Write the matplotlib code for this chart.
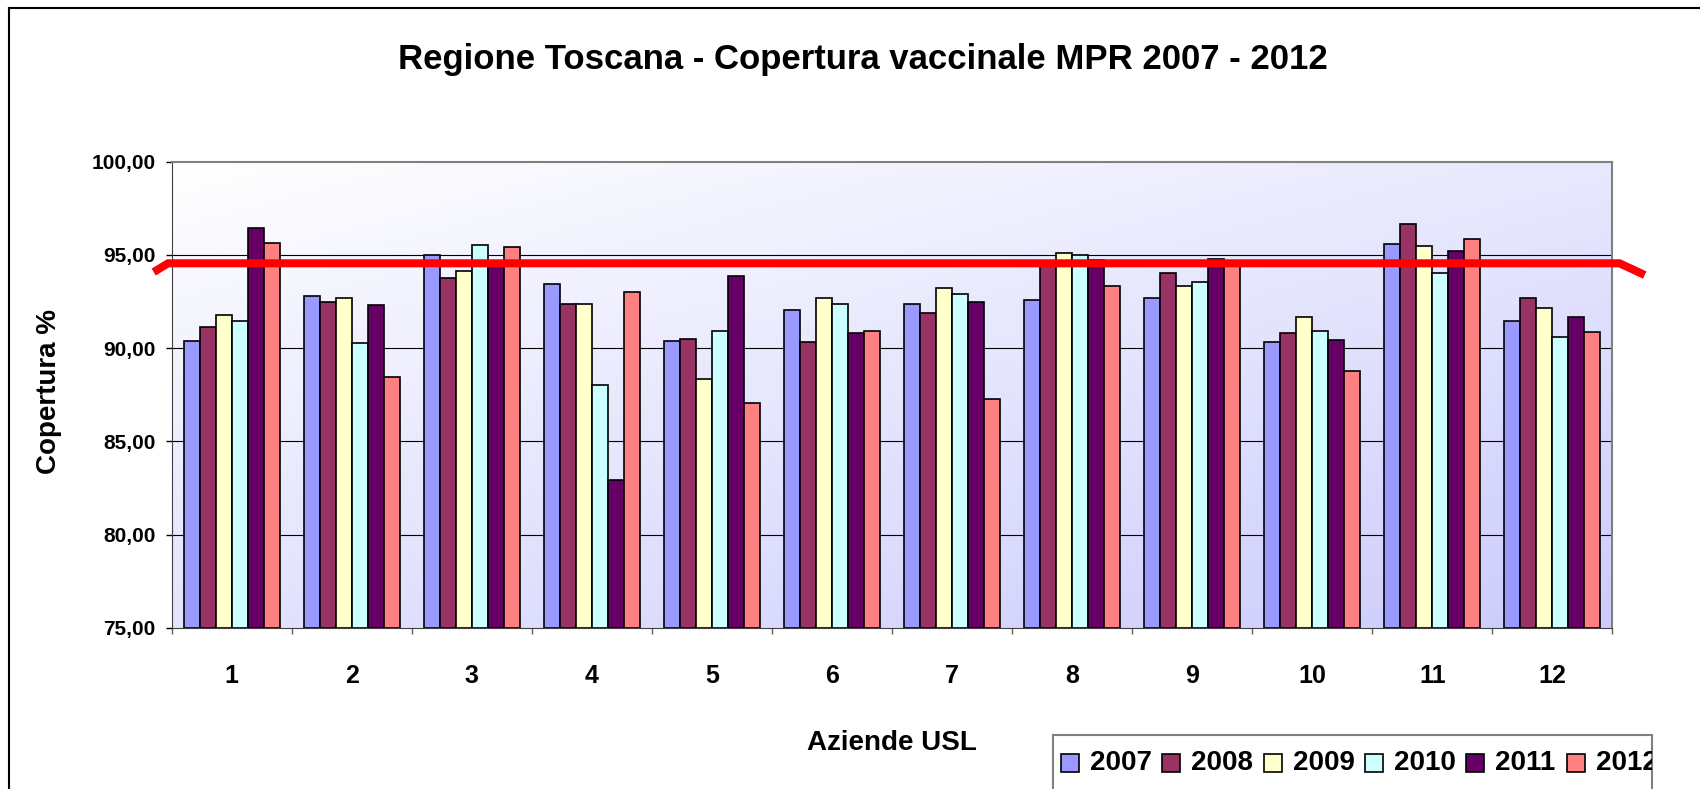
import numpy as np
import matplotlib.pyplot as plt
from matplotlib.patches import Rectangle
from matplotlib.lines import Line2D
from matplotlib.ticker import FuncFormatter

plt.rcParams['font.family'] = ['Liberation Sans', 'DejaVu Sans']
plt.rcParams['font.weight'] = 'bold'

# dati
usl = ['1', '2', '3', '4', '5', '6', '7', '8', '9', '10', '11', '12']
anni = ['2007', '2008', '2009', '2010', '2011', '2012']
v2007 = [90.40, 92.80, 94.99, 93.42, 90.40, 92.06, 92.38, 92.58, 92.70, 90.31, 95.60, 91.45]
v2008 = [91.13, 92.49, 93.76, 92.38, 90.50, 90.31, 91.87, 94.55, 94.05, 90.81, 96.66, 92.70]
v2009 = [91.76, 92.69, 94.15, 92.38, 88.33, 92.69, 93.24, 95.09, 93.31, 91.65, 95.49, 92.17]
v2010 = [91.44, 90.29, 95.51, 88.00, 90.92, 92.38, 92.90, 94.98, 93.53, 90.92, 94.01, 90.61]
v2011 = [96.44, 92.30, 94.65, 82.90, 93.85, 90.81, 92.49, 94.70, 94.80, 90.42, 95.19, 91.65]
v2012 = [95.62, 88.43, 95.41, 92.99, 87.05, 90.92, 87.29, 93.31, 94.60, 88.75, 95.84, 90.85]
valori = [v2007, v2008, v2009, v2010, v2011, v2012]
colori = ['#9999FF', '#993366', '#FFFFCC', '#CCFFFF', '#660066', '#FF8080']

# linea rossa dell'obiettivo (disegnata a mano sul grafico originale)
soglia_x = [0.35, 0.47, 12.56, 12.77]
soglia_y = [94.08, 94.55, 94.55, 93.92]

W, H = 1700, 789
fig = plt.figure(figsize=(W / 100, H / 100), dpi=100)

# cornice esterna
fig.add_artist(Line2D([9 / W, 9 / W], [0, 1 - 8 / H], color='black', lw=1.5))
fig.add_artist(Line2D([9 / W, 1], [1 - 8 / H, 1 - 8 / H], color='black', lw=1.5))

ax = fig.add_axes([171.7 / W, 1 - 627.7 / H, 1440.6 / W, 466 / H])

# sfondo sfumato
gx, gy = np.meshgrid(np.linspace(0, 1, 300), np.linspace(1, 0, 200))
t = np.clip(0.45 * gx + 0.55 * (1 - gy), 0, 1)[..., None]
c0 = np.array([1.0, 1.0, 1.0])
c1 = np.array([0.80, 0.80, 0.99])
ax.imshow(c0 + (c1 - c0) * t, extent=(0.5, 12.5, 75, 100), aspect='auto', zorder=0)

for yv in [80, 85, 90, 95]:
    ax.axhline(yv, color='black', lw=0.8, zorder=1)

x = np.arange(1, len(usl) + 1)
w = 0.8 / len(anni)
for j, (anno, vals) in enumerate(zip(anni, valori)):
    ax.bar(x + (j - 2.5) * w, np.array(vals) - 75, bottom=75, width=w,
           color=colori[j], edgecolor='black', lw=1.2, zorder=2, label=anno)

ax.plot(soglia_x, soglia_y, color='#FF0000', lw=5.8, solid_capstyle='butt',
        solid_joinstyle='miter', clip_on=False, zorder=5)

ax.set_xlim(0.5, 12.5)
ax.set_ylim(75, 100)
ax.set_yticks([75, 80, 85, 90, 95, 100])
ax.yaxis.set_major_formatter(FuncFormatter(lambda v, p: f'{v:.2f}'.replace('.', ',')))
ax.set_xticks(x)
ax.set_xticklabels(usl)
ax.set_xticks(np.arange(0.5, 12.6, 1), minor=True)
ax.tick_params(axis='x', which='major', length=0, pad=26, labelsize=18)
ax.tick_params(axis='x', which='minor', length=4.3, width=1, color='#606060')
ax.tick_params(axis='y', length=4.3, width=1, pad=7.5, labelsize=15)

for s in ['top', 'right']:
    ax.spines[s].set_color('#808080')
    ax.spines[s].set_linewidth(1.5)
ax.spines['left'].set_color('#404040')
ax.spines['bottom'].set_color('#404040')

ax.set_ylabel('Copertura %', fontsize=20, fontweight='bold')
ax.yaxis.set_label_coords(-0.076, 0.506)
fig.text(892 / W, 1 - 743 / H, 'Aziende USL', fontsize=20, fontweight='bold',
         ha='center', va='center')
fig.text(863 / W, 1 - 60 / H, 'Regione Toscana - Copertura vaccinale MPR 2007 - 2012',
         fontsize=25, fontweight='bold', ha='center', va='center')

# legenda (tagliata a destra come nell'originale)
lg = fig.add_axes([1053 / W, 0, 599 / W, 54 / H])
lg.set_xlim(0, 599)
lg.set_ylim(54, 0)
lg.set_xticks([])
lg.set_yticks([])
lg.patch.set_facecolor('white')
for s in ['top', 'left', 'right']:
    lg.spines[s].set_color('#808080')
    lg.spines[s].set_linewidth(1.5)
lg.spines['bottom'].set_visible(False)
for k, anno in enumerate(anni):
    x0 = 8 + k * 101.3
    lg.add_patch(Rectangle((x0, 19), 18, 18, facecolor=colori[k], edgecolor='black', lw=1.2))
    lg.text(x0 + 29, 28, anno, fontsize=20, fontweight='bold', va='center', ha='left',
            clip_on=True)

fig.savefig('out.png', dpi=100)
